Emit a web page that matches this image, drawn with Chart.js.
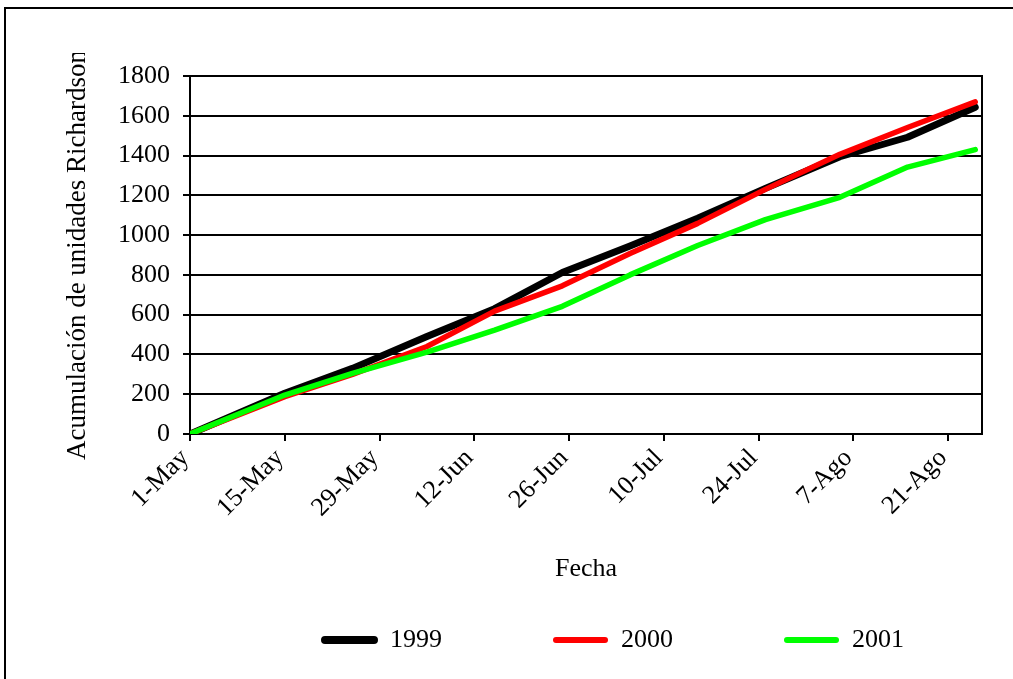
<!DOCTYPE html>
<html lang="es">
<head>
<meta charset="utf-8">
<title>Acumulación de unidades Richardson</title>
<script src="https://cdn.jsdelivr.net/npm/chart.js@4/dist/chart.umd.min.js"></script>
<style>
  html, body { margin: 0; padding: 0; background: #fff; overflow: hidden; }
  #wrap { position: relative; width: 1013px; height: 679px; }
  canvas { display: block; }
</style>
</head>
<body>
<div id="wrap"><canvas id="chart" width="1013" height="679"></canvas></div>
<script>
// Days counted from 1 May for each reading (5th, 15th and 25th of each month)
const dias = [0, 14, 24, 35, 45, 55, 65, 75, 85, 96, 106, 116];

// Accumulated Richardson chill units per season
const serie1999 = [0, 205, 330, 490, 630, 812, 945, 1085, 1235, 1394, 1492, 1643];
const serie2000 = [0, 188, 300, 440, 618, 745, 908, 1059, 1230, 1406, 1541, 1670];
const serie2001 = [0, 196, 305, 412, 522, 642, 800, 948, 1078, 1190, 1342, 1430];

// Date axis: labels every two weeks
const tickDias = [0, 14, 28, 42, 56, 70, 84, 98, 112];
const tickLabels = ['1-May', '15-May', '29-May', '12-Jun', '26-Jun', '10-Jul', '24-Jul', '7-Ago', '21-Ago'];

const SERIF = "'Liberation Serif', 'Times New Roman', serif";
Chart.defaults.color = '#000';
Chart.defaults.font.family = SERIF;

const puntos = (vals) => dias.map((d, i) => ({ x: d, y: vals[i] }));

// White page, outer frame and the plot-area border on the right
const marco = {
  id: 'marco',
  beforeDraw(chart) {
    const ctx = chart.ctx;
    ctx.save();
    ctx.fillStyle = '#fff';
    ctx.fillRect(0, 0, chart.width, chart.height);
    ctx.strokeStyle = '#000';
    ctx.lineWidth = 2;
    ctx.strokeRect(5, 8, chart.width + 40, chart.height + 40);
    ctx.restore();
  },
  beforeDatasetsDraw(chart) {
    const { right, top, bottom } = chart.chartArea;
    const ctx = chart.ctx;
    ctx.save();
    ctx.strokeStyle = '#000';
    ctx.lineWidth = 2;
    ctx.beginPath();
    ctx.moveTo(right, top - 1);
    ctx.lineTo(right, bottom + 1);
    ctx.stroke();
    ctx.restore();
  },
  afterDraw(chart) {
    // the axis title box cuts the end of the vertical title
    const ctx = chart.ctx;
    ctx.save();
    ctx.fillStyle = '#fff';
    ctx.fillRect(60, 10, 40, 43);
    ctx.restore();
  }
};

// Legend row sits below the axis title, with wide spacing between entries
const LEGEND_X = 322;
const LEGEND_TOP = 627;
const leyendaPos = {
  id: 'leyendaPos',
  afterLayout(chart) {
    const lg = chart.legend;
    if (!lg || !lg.lineWidths) return;
    const pad = lg.options.labels.padding;
    const startX = (lg.left + pad + lg.right - lg.lineWidths[0]) / 2;
    const dx = LEGEND_X - startX;
    lg.left += dx; lg.right += dx;
    lg.top = LEGEND_TOP - pad;
    lg.bottom = chart.height;
  }
};

new Chart(document.getElementById('chart'), {
  type: 'line',
  data: {
    datasets: [
      { label: '1999', data: puntos(serie1999), borderColor: '#000000', backgroundColor: '#000000', borderWidth: 7, order: 3 },
      { label: '2000', data: puntos(serie2000), borderColor: '#ff0000', backgroundColor: '#ff0000', borderWidth: 5.5, order: 2 },
      { label: '2001', data: puntos(serie2001), borderColor: '#00ff00', backgroundColor: '#00ff00', borderWidth: 5.5, order: 1 }
    ]
  },
  options: {
    responsive: false,
    animation: false,
    devicePixelRatio: 1,
    events: [],
    layout: { padding: { left: 62, top: 76, right: 31, bottom: 0 } },
    elements: {
      line: { tension: 0, borderCapStyle: 'round', borderJoinStyle: 'round', fill: false },
      point: { radius: 0 }
    },
    scales: {
      x: {
        type: 'linear',
        min: 0,
        max: 117,
        bounds: 'data',
        afterBuildTicks: (scale) => { scale.ticks = tickDias.map((d) => ({ value: d })); },
        afterFit: (scale) => { scale.height = 205; },
        grid: { drawOnChartArea: false, drawTicks: true, tickLength: 7, color: '#000', lineWidth: 2 },
        border: { display: true, color: '#000', width: 2 },
        ticks: {
          autoSkip: false,
          maxRotation: 45,
          minRotation: 45,
          padding: 2,
          labelOffset: -5,
          color: '#000',
          font: { family: SERIF, size: 26 },
          callback: (value, index) => tickLabels[index]
        },
        title: {
          display: true,
          text: 'Fecha',
          color: '#000',
          font: { family: SERIF, size: 26 },
          padding: { top: 0, bottom: 54 }
        }
      },
      y: {
        min: 0,
        max: 1800,
        afterFit: (scale) => { scale.width = 128; },
        grid: { color: '#000', lineWidth: 2, tickLength: 7, drawTicks: true },
        border: { display: true, color: '#000', width: 2 },
        ticks: {
          stepSize: 200,
          padding: 13,
          color: '#000',
          font: { family: SERIF, size: 26 },
          callback: (value) => String(value)
        },
        title: {
          display: true,
          text: 'Acumulación de unidades Richardson',
          color: '#000',
          font: { family: SERIF, size: 27 },
          padding: { top: 0, bottom: 0 }
        }
      }
    },
    plugins: {
      tooltip: { enabled: false },
      legend: {
        display: true,
        position: 'bottom',
        maxHeight: 40,
        labels: {
          boxWidth: 55,
          boxHeight: 6,
          padding: 111,
          color: '#000',
          font: { family: SERIF, size: 26 },
          useBorderRadius: true,
          borderRadius: 3,
          sort: (a, b) => a.datasetIndex - b.datasetIndex,
          generateLabels: (chart) => chart.data.datasets.map((ds, i) => ({
            text: ds.label,
            fillStyle: ds.borderColor,
            strokeStyle: ds.borderColor,
            lineWidth: i === 0 ? 2 : 0,
            borderRadius: 3,
            fontColor: '#000',
            hidden: false,
            datasetIndex: i
          }))
        }
      }
    }
  },
  plugins: [marco, leyendaPos]
});
</script>
</body>
</html>
